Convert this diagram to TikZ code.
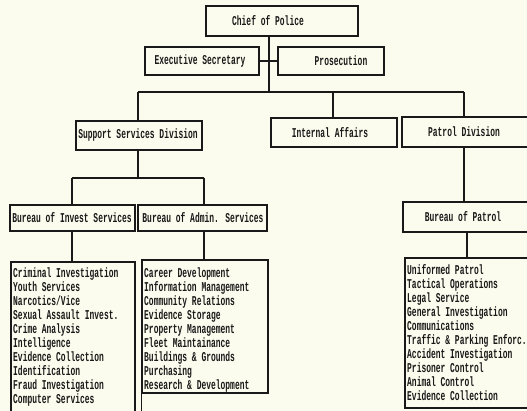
\documentclass[tikz,border=0pt]{standalone}
\usepackage{fontspec}
\newfontfamily\orgfont[FakeStretch=0.59]{Liberation Mono}
\definecolor{paper}{RGB}{252,252,238}
\definecolor{ink}{RGB}{25,25,25}
\tikzset{
  line/.style={draw=ink, line width=1.2pt},
  box/.style={draw=ink, line width=1.2pt, rectangle, inner sep=0pt},
  txt/.style={text=ink, inner sep=0pt, font=\orgfont\bfseries\fontsize{13.5}{14}\selectfont},
  item/.style={txt, anchor=mid west},
}
\begin{document}
\begin{tikzpicture}[x=1pt,y=-1pt]
\useasboundingbox (0,0) rectangle (527,411);
\fill[paper] (0,0) rectangle (527,411);
\begin{scope}
\clip (0,0) rectangle (527,411);
% boxes
\node[box, minimum width=152pt, minimum height=30pt] (chief) at (282,21) {};
\node[txt] (chiefT) at (268,21) {Chief of Police};
\node[box, minimum width=114pt, minimum height=28pt] (exec) at (202,61) {};
\node[txt] (execT) at (200,61) {Executive Secretary};
\node[box, minimum width=106pt, minimum height=28pt] (pros) at (331,61) {};
\node[txt] (prosT) at (341,61) {Prosecution};
\node[box, minimum width=126pt, minimum height=29pt] (supp) at (139,135.5) {};
\node[txt] (suppT) at (138,135.5) {Support Services Division};
\node[box, minimum width=126pt, minimum height=29pt] (ia) at (334,132.5) {};
\node[txt] (iaT) at (330,132.5) {Internal Affairs};
\node[box, minimum width=138pt, minimum height=30pt] (pd) at (471,132) {};
\node[txt] (pdT) at (464,132) {Patrol Division};
\node[box, minimum width=125pt, minimum height=26pt] (binv) at (72.5,218) {};
\node[txt] (binvT) at (72,218) {Bureau of Invest Services};
\node[box, minimum width=129pt, minimum height=26pt] (badm) at (202.5,218) {};
\node[txt] (badmT) at (203,218) {Bureau of Admin. Services};
\node[box, minimum width=134pt, minimum height=30pt] (bpat) at (470,217) {};
\node[txt] (bpatT) at (463,217) {Bureau of Patrol};
\node[box, minimum width=124pt, minimum height=170pt] (linv) at (73,347) {};
\node[box, minimum width=126pt, minimum height=133pt] (ladm) at (205,326.5) {};
\node[box, minimum width=135pt, minimum height=150pt] (lpat) at (472.5,333) {};
% connectors
\coordinate (j0) at (269,61);
\coordinate (j1) at (269,92);
\coordinate (hl) at (138,92);
\coordinate (hr) at (464,92);
\coordinate (hm) at (333,92);
\draw[line] (chief.south -| j1) -- (j1);
\draw[line] (exec.east) -- (pros.west);
\draw[line] (hl) -- (hr);
\draw[line] (hl) -- (hl |- supp.north);
\draw[line] (hm) -- (hm |- ia.north);
\draw[line] (hr) -- (hr |- pd.north);
\coordinate (s1) at (138,178);
\coordinate (sl) at (72,178);
\coordinate (sr) at (204,178);
\draw[line] (s1 |- supp.south) -- (s1);
\draw[line] (sl) -- (sr);
\draw[line] (sl) -- (sl |- binv.north);
\draw[line] (sr) -- (sr |- badm.north);
\draw[line] (binv.south -| sl) -- (sl |- linv.north);
\draw[line] (badm.south -| sr) -- (sr |- ladm.north);
\draw[line] (pd.south -| hr) -- (hr |- bpat.north);
\coordinate (p1) at (467,232);
\draw[line] (p1 |- bpat.south) -- (p1 |- lpat.north);
\draw[line] (ladm.south west) -- ++(0,20);
% lists
\foreach \t [count=\i from 0] in {Criminal Investigation, Youth Services, Narcotics/Vice, Sexual Assault Invest., Crime Analysis, Intelligence, Evidence Collection, Identification, Fraud Investigation, Computer Services}
  \node[item] (inv\i) at (13,275+14*\i) {\t};
\foreach \t [count=\i from 0] in {Career Development, Information Management, Community Relations, Evidence Storage, Property Management, Fleet Maintainance, Buildings \& Grounds, Purchasing, Research \& Development}
  \node[item] (adm\i) at (144,275+14*\i) {\t};
\foreach \t [count=\i from 0] in {Uniformed Patrol, Tactical Operations, Legal Service, General Investigation, Communications, Traffic \& Parking Enforc., Accident Investigation, Prisoner Control, Animal Control, Evidence Collection}
  \node[item] (pat\i) at (407,272+14*\i) {\t};
\end{scope}
\end{tikzpicture}
\end{document}
